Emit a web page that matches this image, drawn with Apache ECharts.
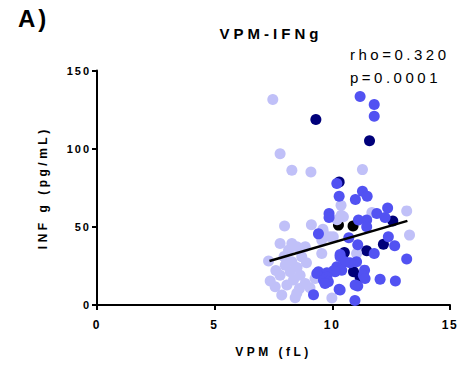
<!DOCTYPE html>
<html>
<head>
<meta charset="utf-8">
<script src="https://cdn.jsdelivr.net/npm/echarts@6/dist/echarts.min.js"></script>
<style>
html, body { margin: 0; padding: 0; background: #fff; }
#chart { width: 457px; height: 366px; }
</style>
</head>
<body>
<div id="chart"></div>
<script>
// [VPM fL, IFNg pg/mL]
const lightPts = [
  [7.47, 131.5], [7.78, 96.8], [8.28, 86.2], [9.09, 85.1], [11.28, 86.6],
  [10.37, 63.8], [13.16, 60.2], [10.47, 56.4], [10.38, 57.4], [10.2, 54.5], [11.68, 59.2],
  [7.97, 50.6], [9.11, 51.4], [9.62, 46.3], [9.6, 48.5], [10.04, 43.6],
  [9.91, 43.6], [9.55, 41.5], [13.28, 44.7], [7.78, 39.4], [8.28, 39.4],
  [8.49, 37.2], [8.85, 37.2], [8.14, 35.1], [9.55, 33.0], [11.03, 33.0],
  [8.70, 30.8], [7.95, 31.0], [7.29, 28.1], [8.0, 25.5], [8.28, 27.7],
  [8.9, 27.0], [8.5, 24.0], [8.21, 21.3], [7.6, 22.0], [7.78, 19.1],
  [8.63, 19.1], [7.36, 15.3], [8.35, 16.0], [9.27, 17.0], [7.57, 11.7],
  [8.07, 12.8], [8.85, 13.8], [8.6, 10.5], [9.05, 11.0], [8.49, 7.5],
  [7.85, 6.4], [8.42, 4.7], [9.98, 4.5]
]
const blackPts = [[10.26, 51.1], [10.88, 50.6]]
const darkPts = [
  [9.30, 118.7], [11.58, 105.1], [10.29, 78.7], [12.57, 53.8], [12.17, 38.9],
  [11.46, 34.7], [10.51, 33.6], [10.90, 21.3], [11.18, 17.7]
]
const mediumPts = [
  [11.18, 133.4], [11.78, 128.3], [11.78, 120.8], [10.19, 77.7], [11.28, 72.8],
  [11.48, 69.6], [10.29, 69.6], [10.98, 67.5], [12.35, 62.1], [9.86, 58.5],
  [9.86, 56.0], [11.89, 58.5], [12.24, 56.0], [11.46, 54.3], [11.11, 54.3],
  [11.46, 50.0], [9.41, 45.5], [10.7, 43.0], [12.38, 43.6], [12.65, 37.9],
  [11.08, 38.5], [11.78, 33.0], [10.33, 32.3], [10.33, 30.8], [13.16, 29.4],
  [11.03, 27.7], [10.75, 27.0], [10.54, 27.7], [10.19, 24.5], [11.37, 22.3],
  [10.40, 22.3], [10.05, 21.9], [10.12, 21.3], [9.41, 21.3], [9.77, 20.6],
  [9.34, 20.2], [9.77, 18.1], [11.32, 19.1], [9.62, 16.0], [9.83, 14.9],
  [9.69, 13.8], [11.39, 17.0], [12.03, 16.4], [12.68, 15.3], [11.08, 12.1],
  [10.97, 12.8], [10.29, 10.0], [10.33, 9.6], [9.20, 6.6], [10.96, 2.9]
]
const fitLine = [[7.33, 28.1], [13.19, 53.8]]
const xTicks = [0, 15, 5]   // min, max, interval
const yTicks = [0, 150, 50]

const FONT = 'Liberation Sans'

const chart = echarts.init(document.getElementById('chart'), null, { renderer: 'svg' })

function dots(data, color) {
  return {
    type: 'scatter', data: data, symbolSize: 11,
    itemStyle: { color: color, opacity: 1 },
    silent: true
  }
}

chart.setOption({
  animation: false,
  grid: { left: 97, right: 7, top: 70.5, bottom: 61, outerBoundsMode: 'none' },
  xAxis: {
    type: 'value', min: xTicks[0], max: xTicks[1], interval: xTicks[2],
    name: 'VPM (fL)', nameLocation: 'middle', nameGap: 41,
    nameTextStyle: { fontFamily: FONT, fontWeight: 'bold', fontSize: 12, color: '#000' },
    axisLine: { lineStyle: { color: '#000', width: 2 } },
    axisTick: { inside: false, length: 5, lineStyle: { color: '#000', width: 2 } },
    axisLabel: { fontFamily: FONT, fontWeight: 'bold', fontSize: 12, color: '#000', margin: 14 },
    splitLine: { show: false }
  },
  yAxis: {
    type: 'value', min: yTicks[0], max: yTicks[1], interval: yTicks[2],
    name: 'INF g (pg/mL)', nameLocation: 'middle', nameGap: 48, nameRotate: 90,
    nameTextStyle: { fontFamily: FONT, fontWeight: 'bold', fontSize: 12, color: '#000' },
    axisLine: { show: true, lineStyle: { color: '#000', width: 2 } },
    axisTick: { show: true, inside: false, length: 5, lineStyle: { color: '#000', width: 2 } },
    axisLabel: { fontFamily: FONT, fontWeight: 'bold', fontSize: 11, color: '#000', margin: 6 },
    splitLine: { show: false }
  },
  series: [
    dots(blackPts, '#000000'),
    dots(darkPts, '#00007a'),
    dots(lightPts, '#c0c0f8'),
    dots(mediumPts, '#5252f2'),
    {
      type: 'line', data: fitLine, symbol: 'none', silent: true,
      lineStyle: { color: '#000', width: 2.5 }
    }
  ],
  graphic: [
    { type: 'text', x: 18, y: 6, style: { text: 'A)', font: 'bold 24px "Liberation Sans"', fill: '#000' } },
    { type: 'text', x: 271, y: 26, style: { text: 'VPM-IFNg', font: 'bold 15px "Liberation Sans"', fill: '#000', textAlign: 'center' } },
    { type: 'text', x: 350, y: 47, style: { text: 'rho=0.320', font: '15px "Liberation Sans"', fill: '#000' } },
    { type: 'text', x: 350, y: 70, style: { text: 'p=0.0001', font: '15px "Liberation Sans"', fill: '#000' } }
  ]
})

// the figure's text is widely letter-spaced
function spaceText() {
  document.querySelectorAll('#chart text').forEach(t => {
    const s = t.textContent
    let ls = 2
    if (s === 'VPM-IFNg') ls = 4
    else if (s.startsWith('rho') || s.startsWith('p=')) ls = 3.5
    else if (s === 'A)') ls = 3
    else if (s === 'VPM (fL)' || s === 'INF g (pg/mL)') ls = 3.5
    else if (s === '15') ls = 1.5
    t.style.letterSpacing = ls + 'px'
  })
}
spaceText()
chart.on('finished', spaceText)
</script>
</body>
</html>
